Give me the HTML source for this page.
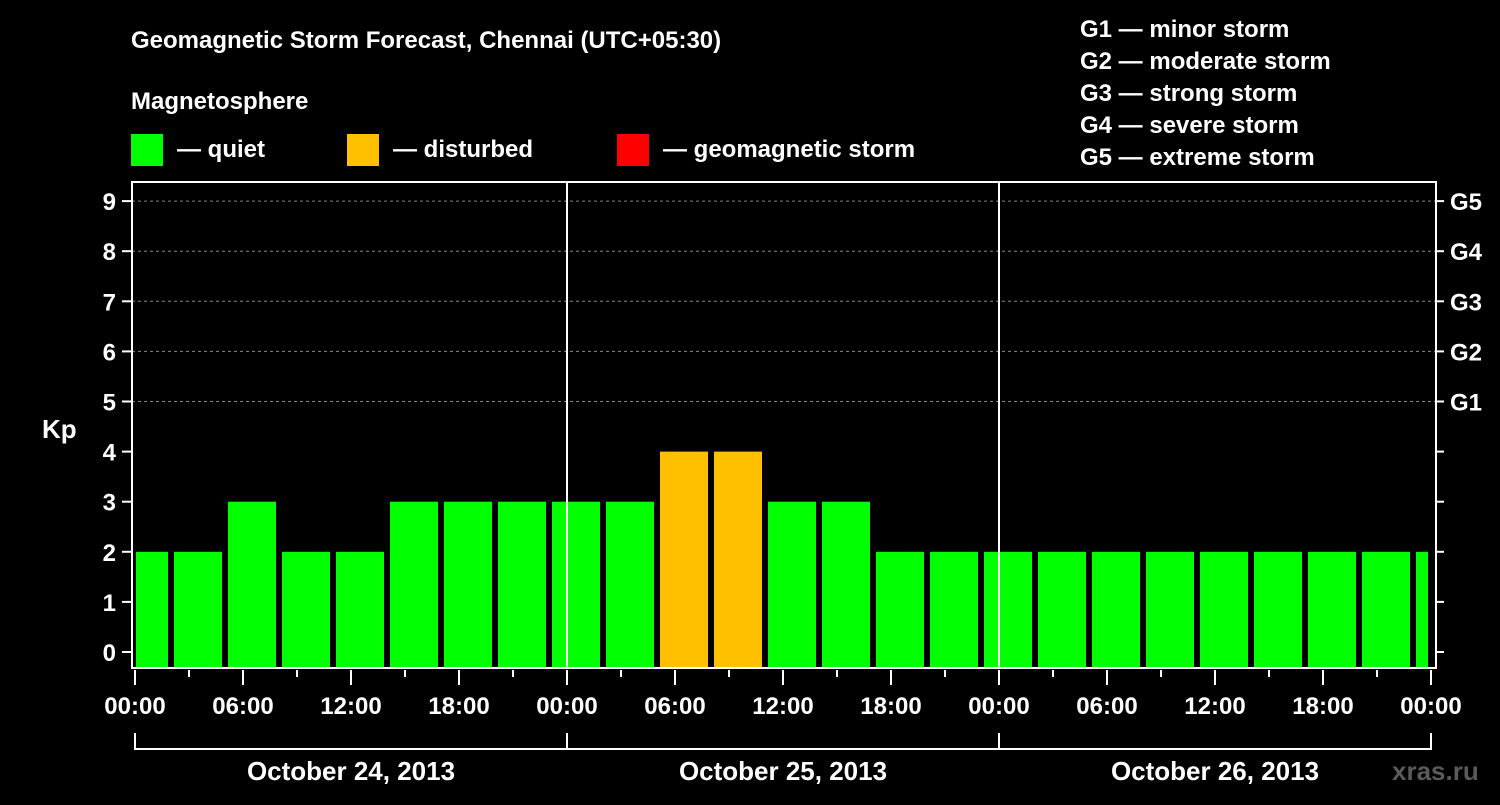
<!DOCTYPE html>
<html><head><meta charset="utf-8"><style>
body{margin:0;background:#000;width:1500px;height:800px;overflow:hidden;font-family:"Liberation Sans",Arial,sans-serif}
svg text{font-family:"Liberation Sans",Arial,sans-serif;font-weight:bold;fill:#fff}
</style></head><body>
<svg id="c" width="1500" height="800">
<text x="131" y="48" font-size="24">Geomagnetic Storm Forecast, Chennai (UTC+05:30)</text>
<text x="131" y="109" font-size="24">Magnetosphere</text>
<g><rect x="131" y="134" width="32" height="32" fill="#00ff00"/><text x="177" y="157" font-size="24">— quiet</text></g>
<g><rect x="347" y="134" width="32" height="32" fill="#ffc000"/><text x="393" y="157" font-size="24">— disturbed</text></g>
<g><rect x="617" y="134" width="32" height="32" fill="#ff0000"/><text x="663" y="157" font-size="24">— geomagnetic storm</text></g>
<g font-size="24">
<text x="1080" y="37">G1 — minor storm</text>
<text x="1080" y="69">G2 — moderate storm</text>
<text x="1080" y="101">G3 — strong storm</text>
<text x="1080" y="133">G4 — severe storm</text>
<text x="1080" y="165">G5 — extreme storm</text>
</g>
<text x="42" y="438" font-size="26">Kp</text>
<text x="1392" y="780" font-size="26" fill="#666" style="fill:#5a5a5a">xras.ru</text>
<g id="plot"></g>
</svg>
<script>
const kpValues=[2,2,3,2,2,3,3,3,3,3,4,4,3,3,2,2,2,2,2,2,2,2,2,2,2];
const barHours=[0.5,3.5,6.5,9.5,12.5,15.5,18.5,21.5,24.5,27.5,30.5,33.5,36.5,39.5,42.5,45.5,48.5,51.5,54.5,57.5,60.5,63.5,66.5,69.5,72.5];
const timeLabels=["00:00","06:00","12:00","18:00","00:00","06:00","12:00","18:00","00:00","06:00","12:00","18:00","00:00"];
const dayLabels=["October 24, 2013","October 25, 2013","October 26, 2013"];
const yTicks=[0,1,2,3,4,5,6,7,8,9];
const gLabels=["G1","G2","G3","G4","G5"];
const NS="http://www.w3.org/2000/svg";
const L=132,R=1436,T=182,B=668,X0=135,PXH=18;
const xs=h=>X0+h*PXH, ys=k=>652-k*50.1;
const g=document.getElementById('plot');
function mk(t,a){const e=document.createElementNS(NS,t);for(const k in a)e.setAttribute(k,a[k]);g.appendChild(e);return e;}
yTicks.forEach(k=>{
 if(k>=5){const e=mk('line',{x1:L,x2:R,y1:ys(k),y2:ys(k),stroke:'#888','stroke-dasharray':'3,3','stroke-width':1});
 
 }
 const t1=mk('line',{x1:L-10,x2:L,y1:ys(k),y2:ys(k),stroke:'#fff','stroke-width':2});
 
 
 const t2=mk('line',{x1:R,x2:R+8,y1:ys(k),y2:ys(k),stroke:'#fff','stroke-width':2});
 
 
 const lb=mk('text',{x:L-16,y:ys(k)+9,'font-size':24,'text-anchor':'end'});lb.textContent=k;
 
 
});
gLabels.forEach((s,i)=>{const lb=mk('text',{x:R+14,y:ys(5+i)+9,'font-size':24});lb.textContent=s;
 
 });
kpValues.forEach((v,i)=>{
 let x1=xs(barHours[i])-24,x2=xs(barHours[i])+24;
 x1=Math.max(x1,L+4);x2=Math.min(x2,R-8);
 const col=v>=5?'#ff0000':v>=4?'#ffc000':'#00ff00';
 const b=mk('rect',{x:x1,y:ys(v),width:x2-x1,height:B-ys(v),fill:col});
 
 
});
[1,2].forEach(d=>{const e=mk('line',{x1:xs(d*24),x2:xs(d*24),y1:T,y2:B,stroke:'#fff','stroke-width':2});
 
 });
const fr=mk('rect',{x:L,y:T,width:R-L,height:B-T,fill:'none',stroke:'#fff','stroke-width':2});


for(let h=0;h<=72;h+=3){const major=h%6==0;
 const e=mk('line',{x1:xs(h),x2:xs(h),y1:B+2,y2:B+(major?17:9),stroke:'#fff','stroke-width':2});
 
 }
timeLabels.forEach((s,i)=>{const lb=mk('text',{x:xs(i*6),y:714,'font-size':24,'text-anchor':'middle'});lb.textContent=s;
 
 });
const br=mk('path',{d:`M${xs(0)},733V749H${xs(72)}V733M${xs(24)},733V749M${xs(48)},733V749`,stroke:'#fff','stroke-width':2,fill:'none'});


dayLabels.forEach((s,i)=>{const lb=mk('text',{x:xs(i*24+12),y:780,'font-size':26,'text-anchor':'middle'});lb.textContent=s;
 
 });
</script>
</body></html>
